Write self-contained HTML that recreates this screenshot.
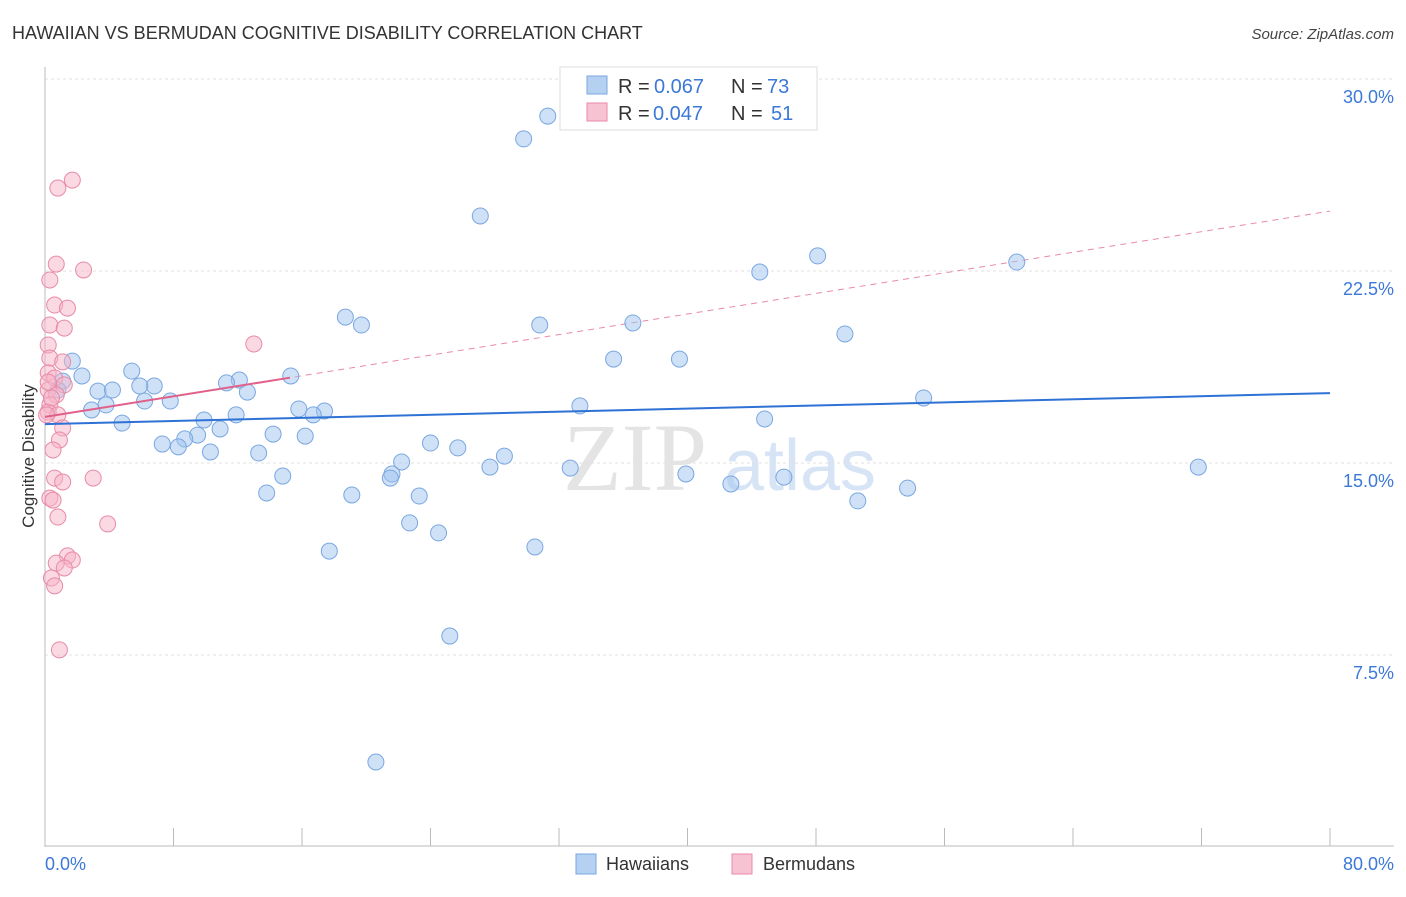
<!DOCTYPE html>
<html><head><meta charset="utf-8"><style>
body{margin:0;background:#fff;font-family:"Liberation Sans",sans-serif;}
</style></head><body>
<svg id="chart" width="1406" height="892" xmlns="http://www.w3.org/2000/svg" font-family="Liberation Sans, sans-serif">
<text x="12" y="39" font-size="18" fill="#333">HAWAIIAN VS BERMUDAN COGNITIVE DISABILITY CORRELATION CHART</text>
<text x="1394" y="39" font-size="15" fill="#444" font-style="italic" text-anchor="end">Source: ZipAtlas.com</text>
<g>
<text x="635" y="490" font-size="96" font-family="Liberation Serif, serif" fill="#e4e4e4" text-anchor="middle">ZIP</text>
<text x="800" y="490" font-size="72" fill="#d6e4f5" text-anchor="middle">atlas</text>
</g>
<g id="grid"></g>
<g id="axes"></g>
<g id="trends"></g>
<g id="points"></g>
<text transform="translate(34,456) rotate(-90)" font-size="17" fill="#333" text-anchor="middle">Cognitive Disability</text>
<text x="45" y="870" font-size="18" fill="#3b78d8">0.0%</text>
<text x="1394" y="870" font-size="18" fill="#3b78d8" text-anchor="end">80.0%</text>
<g font-size="20">
<rect x="560" y="67" width="257" height="63" fill="#fff" stroke="#ddd"/>
<rect x="587" y="76" width="20" height="18" fill="#b6d0f2" stroke="#7aa7e0"/>
<text x="618" y="93" fill="#333">R =</text>
<text x="654" y="93" fill="#3b78d8">0.067</text>
<text x="731" y="93" fill="#333">N =</text>
<text x="767" y="93" fill="#3b78d8">73</text>
<rect x="587" y="103" width="20" height="18" fill="#f7c3d3" stroke="#e88aa8"/>
<text x="618" y="120" fill="#333">R =</text>
<text x="653" y="120" fill="#3b78d8">0.047</text>
<text x="731" y="120" fill="#333">N =</text>
<text x="771" y="120" fill="#3b78d8">51</text>
</g>
<g>
<rect x="576" y="854" width="20" height="20" fill="#b6d0f2" stroke="#7aa7e0"/>
<text x="606" y="870" font-size="18" fill="#333">Hawaiians</text>
<rect x="732" y="854" width="20" height="20" fill="#f7c3d3" stroke="#e88aa8"/>
<text x="763" y="870" font-size="18" fill="#333">Bermudans</text>
</g>
</svg>
<script>
const blueX=[31.3,29.8,27.1,48.1,44.5,60.5,18.7,19.7,30.8,36.6,49.8,35.4,39.5,1.7,5.4,2.3,1.1,15.3,12.1,11.3,6.8,5.9,3.3,4.2,12.6,0.8,7.8,6.2,3.8,2.9,54.7,33.3,15.8,17.4,16.7,11.9,9.9,4.8,44.8,10.9,14.2,16.2,9.5,8.7,7.3,8.3,24.0,25.7,10.3,13.3,28.6,22.2,27.7,32.7,21.6,21.5,14.8,39.9,46.0,42.7,71.8,53.7,13.8,19.1,23.3,50.6,22.7,24.5,17.7,30.5,25.2,20.6];
const blueY=[28.55,27.66,24.65,23.09,22.46,22.85,20.70,20.39,20.39,20.47,20.04,19.06,19.06,18.98,18.59,18.40,18.20,18.40,18.24,18.13,18.01,18.01,17.81,17.85,17.77,17.85,17.42,17.42,17.27,17.07,17.54,17.23,17.11,17.03,16.88,16.88,16.68,16.56,16.72,16.33,16.13,16.05,16.09,15.94,15.74,15.63,15.78,15.59,15.43,15.39,15.27,15.04,14.84,14.80,14.57,14.41,14.49,14.57,14.45,14.18,14.84,14.02,13.83,13.75,13.71,13.52,12.66,12.27,11.56,11.72,8.24,3.32];
const pinkX=[1.7,0.8,2.4,0.7,0.3,0.6,1.4,0.3,1.2,0.2,13.0,0.3,1.1,0.2,0.6,1.2,0.2,0.7,0.3,0.2,0.8,1.1,0.9,0.5,0.6,1.1,3.0,0.3,0.5,0.8,3.9,1.4,1.7,0.7,1.2,0.4,0.6,0.9,0.2,0.4,0.1];
const pinkY=[26.05,25.74,22.54,22.77,22.15,21.17,21.05,20.39,20.27,19.61,19.65,19.10,18.95,18.52,18.32,18.05,17.85,17.66,17.27,16.99,16.88,16.37,15.90,15.51,14.41,14.26,14.41,13.63,13.55,12.89,12.62,11.37,11.21,11.09,10.90,10.51,10.20,7.70,18.16,17.54,16.88];
const blueTrend=[16.52,17.73];
const pinkTrend=[16.80,24.84];
const pinkSolidEnd=15.25;
const yTicks=[7.5,15,22.5,30];
const yTickLabels=["7.5%","15.0%","22.5%","30.0%"];
const xTicks=[0,8,16,24,32,40,48,56,64,72,80];

const NS="http://www.w3.org/2000/svg";
const sx=v=>45+v/80*1285;
const sy=v=>847-v/30*768;
function mk(parent,tag,attrs){const e=document.createElementNS(NS,tag);for(const k in attrs)e.setAttribute(k,attrs[k]);document.getElementById(parent).appendChild(e);return e;}

yTicks.forEach((t,i)=>{
  const l=mk('grid','line',{x1:45,x2:1394,y1:sy(t),y2:sy(t),stroke:'#e2e2e2','stroke-dasharray':'3,3'});
  
  
  const tx=mk('grid','text',{x:1394,y:sy(t)+24,'font-size':18,fill:'#3b78d8','text-anchor':'end'});
  tx.textContent=yTickLabels[i];
  
  
});
const ya=mk('axes','line',{x1:45,x2:45,y1:67,y2:847,stroke:'#bbb'});


const xa=mk('axes','line',{x1:45,x2:1394,y1:846,y2:846,stroke:'#bbb'});


xTicks.forEach(t=>{
  const l=mk('axes','line',{x1:sx(t),x2:sx(t),y1:828,y2:846,stroke:'#bbb'});
  
  
});

let tl=mk('trends','line',{x1:sx(0),y1:sy(pinkTrend[0]),x2:sx(80),y2:sy(pinkTrend[1]),stroke:'#e88aa8','stroke-width':1,'stroke-dasharray':'6,5'});



blueX.forEach((x,i)=>{
  const c=mk('points','circle',{cx:sx(x),cy:sy(blueY[i]),r:8,fill:'rgba(160,195,240,0.5)',stroke:'#7aa7e0','stroke-width':1});
  
  
});
pinkX.forEach((x,i)=>{
  const c=mk('points','circle',{cx:sx(x),cy:sy(pinkY[i]),r:8,fill:'rgba(245,180,200,0.5)',stroke:'#e88aa8','stroke-width':1});
  
  
});
const pe=pinkTrend[0]+(pinkTrend[1]-pinkTrend[0])*pinkSolidEnd/80;
tl=mk('points','line',{x1:sx(0),y1:sy(pinkTrend[0]),x2:sx(pinkSolidEnd),y2:sy(pe),stroke:'#e0608a','stroke-width':2});


tl=mk('points','line',{x1:sx(0),y1:sy(blueTrend[0]),x2:sx(80),y2:sy(blueTrend[1]),stroke:'#2f72d6','stroke-width':2});


</script>
</body></html>
